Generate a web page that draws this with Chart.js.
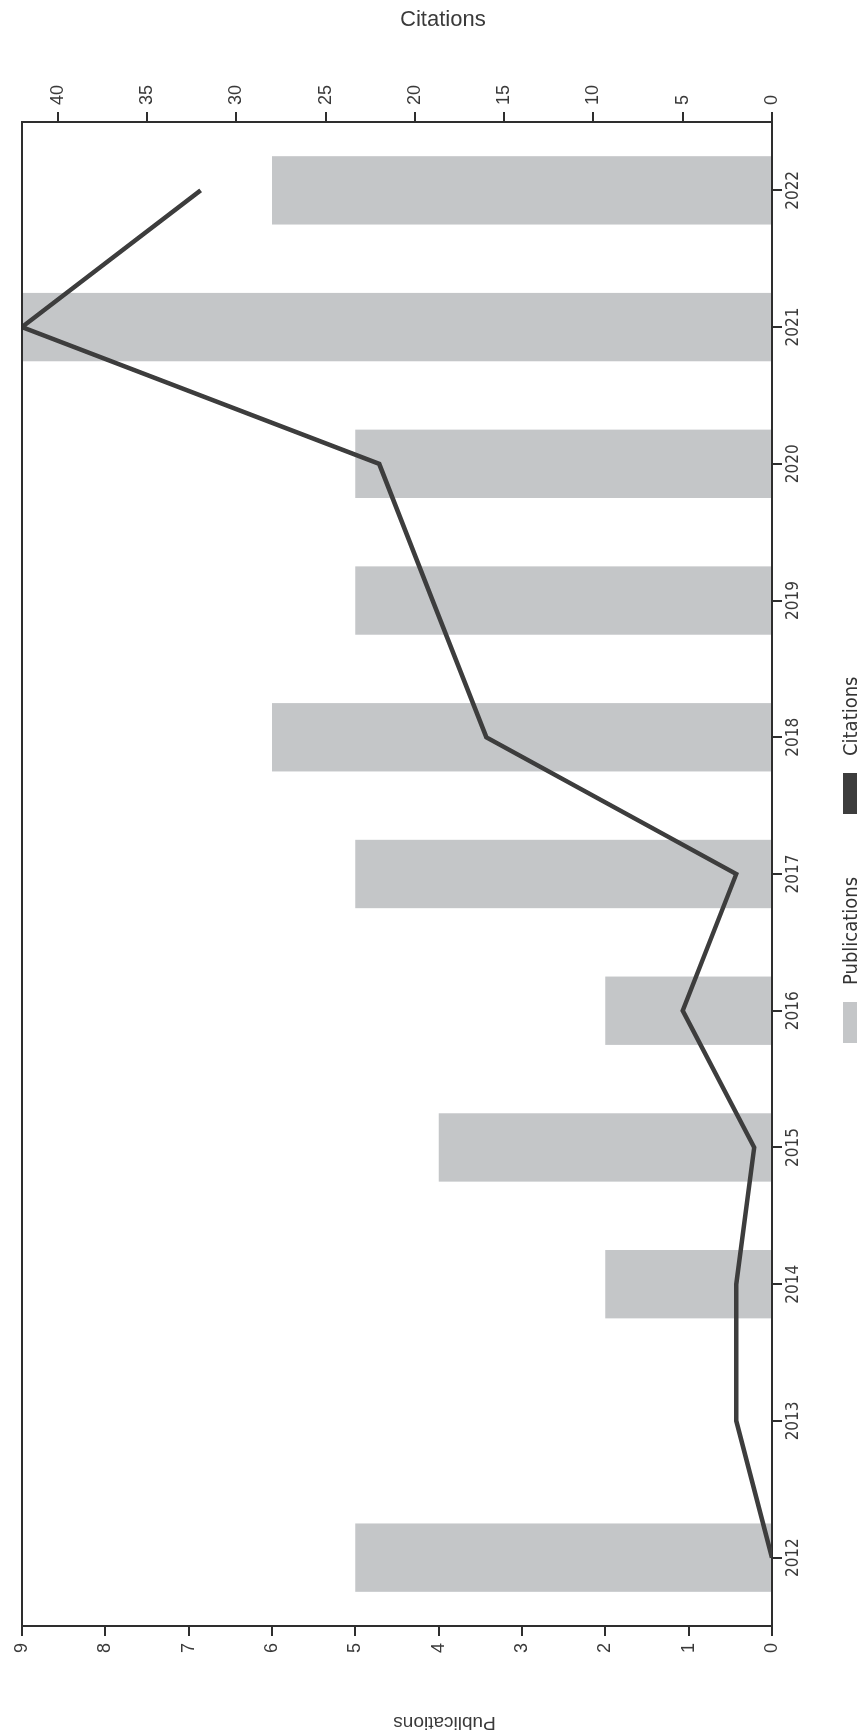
<!DOCTYPE html>
<html>
<head>
<meta charset="utf-8">
<script src="https://cdn.jsdelivr.net/npm/chart.js@4.4.1/dist/chart.umd.min.js"></script>
<style>
    html, body { margin: 0; padding: 0; background: #fff; }
    body { width: 860px; height: 1736px; overflow: hidden; position: relative; }
    /* the scan is the chart turned a quarter to the left */
    #turn {
        position: absolute; left: 0; top: 0;
        width: 1736px; height: 860px;
        transform-origin: 0 0;
        transform: translate(0, 1736px) rotate(-90deg);
    }
    #chart { position: absolute; left: 0; top: 0; }
    .key {
        position: absolute; top: 836px; height: 28px;
        display: flex; align-items: center;
        font: 20px 'Liberation Sans Narrow', 'DejaVu Sans Condensed', sans-serif;
        color: #333;
    }
    .key span { display: inline-block; width: 41px; height: 14px; margin-right: 17px; }
</style>
</head>
<body>
<div id="turn">
    <canvas id="chart" width="1736" height="860"></canvas>
    <div class="key" style="left: 693px"><span style="background: #c4c6c8"></span>Publications</div>
    <div class="key" style="left: 922px"><span style="background: #3d3d3d"></span>Citations</div>
</div>
<script>
const years = ["2012", "2013", "2014", "2015", "2016", "2017", "2018", "2019", "2020", "2021", "2022"];
const publications = [5, 0, 2, 4, 2, 5, 6, 5, 5, 9, 6];
const citations = [0, 2, 2, 1, 5, 2, 16, 19, 22, 42, 32];
const pubMax = 9;
const citeMax = 42;

const axisColor = "#2e2e2e";
const textColor = "#3a3a3a";
const narrow = "'Liberation Sans Narrow', 'DejaVu Sans Condensed', sans-serif";
const arial = "'Liberation Sans', Arial, sans-serif";

// the axis titles sit off centre in the scan, nudge them with blank space
const gap = n => "\u00a0".repeat(n);

// closes the plot box on the side that has no axis
const frame = {
    id: "frame",
    afterDatasetsDraw(chart) {
        const {ctx, chartArea: a} = chart;
        ctx.save();
        ctx.strokeStyle = axisColor;
        ctx.lineWidth = 2;
        ctx.beginPath();
        ctx.moveTo(a.left, a.top);
        ctx.lineTo(a.right, a.top);
        ctx.stroke();
        ctx.restore();
    }
};

new Chart(document.getElementById("chart"), {
    type: "bar",
    data: {
        labels: years,
        datasets: [
            {
                type: "line",
                label: "Citations",
                data: citations,
                yAxisID: "y1",
                borderColor: "#3d3d3d",
                borderWidth: 4.5,
                borderJoinStyle: "miter",
                pointRadius: 0,
                tension: 0,
                order: 0
            },
            {
                label: "Publications",
                data: publications,
                yAxisID: "y",
                backgroundColor: "#c4c6c8",
                barPercentage: 0.5,
                categoryPercentage: 1,
                order: 1
            }
        ]
    },
    options: {
        responsive: false,
        animation: false,
        layout: {padding: {top: 22, left: 0, right: 0, bottom: 0}},
        plugins: {
            legend: {display: false},
            tooltip: {enabled: false}
        },
        scales: {
            x: {
                position: "bottom",
                grid: {drawOnChartArea: false, offset: false, tickLength: 10, color: axisColor, lineWidth: 2},
                border: {display: true, color: axisColor, width: 2},
                ticks: {font: {family: narrow, size: 17}, color: textColor, maxRotation: 0, padding: 1},
                afterFit: s => { s.height = 88; }
            },
            y: {
                position: "left",
                min: 0,
                max: pubMax,
                grid: {drawOnChartArea: false, tickLength: 10, color: axisColor, lineWidth: 2},
                border: {display: true, color: axisColor, width: 2},
                ticks: {stepSize: 1, font: {family: arial, size: 18}, color: textColor, padding: 7},
                title: {display: true, text: "Publications" + gap(18), font: {family: arial, size: 19}, color: textColor, padding: {top: 2, bottom: 4}},
                afterFit: s => { s.width = 110; }
            },
            y1: {
                position: "right",
                min: 0,
                max: citeMax,
                grid: {drawOnChartArea: false, tickLength: 10, color: axisColor, lineWidth: 2},
                border: {display: true, color: axisColor, width: 2},
                ticks: {stepSize: 5, includeBounds: false, font: {family: arial, size: 18}, color: textColor, padding: 7},
                title: {display: true, text: gap(15) + "Citations", font: {family: arial, size: 22}, color: textColor, padding: {top: 7, bottom: 4}},
                afterFit: s => { s.width = 122; }
            }
        }
    },
    plugins: [frame]
});
</script>
</body>
</html>
